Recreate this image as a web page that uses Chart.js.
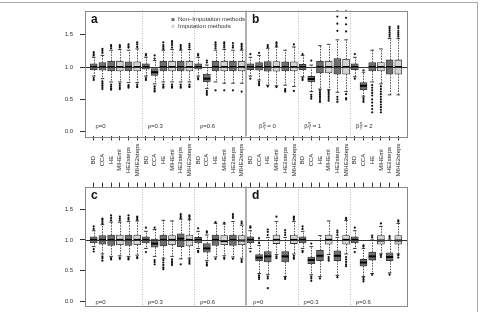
<!DOCTYPE html>
<html>
<head>
<meta charset="utf-8">
<script src="https://cdn.jsdelivr.net/npm/chart.js@4.4.1/dist/chart.umd.min.js"></script>
<style>
  body { margin: 0; background: #fff; width: 480px; height: 312px; overflow: hidden; position: relative; }
  #frame { position: absolute; left: -2px; top: 2px; width: 479px; height: 330px; border-top: 1px solid #aaa; border-right: 1px solid #aaa; }
  #topRow { position: absolute; left: 0; top: 0; }
  #botRow { position: absolute; left: 0; top: 176px; }
</style>
</head>
<body>
<div id="frame"></div>
<canvas id="topRow" width="480" height="180"></canvas>
<canvas id="botRow" width="480" height="140"></canvas>
<script>
const methods = ['BD', 'CCA', 'HE', 'MIHEml', 'HE2steps', 'MIHE2steps'];
const imputed = [false, false, false, true, false, true];
const yTicks = [0, 0.5, 1.0, 1.5];
const groupBreaks = [6.5, 12.5, 24.5, 30.5];
const panelBreak = 18.5;

const topLetters = ['a', 'b'];
const botLetters = ['c', 'd'];
const topGroups = ['ρ=0', 'ρ=0.3', 'ρ=0.6', 'β = 0', 'β = 1', 'β = 2'];
const botGroups = ['ρ=0', 'ρ=0.3', 'ρ=0.6', 'ρ=0', 'ρ=0.3', 'ρ=0.6'];
const topGroupAt = [1.2, 7.2, 13.2, 20.0, 25.2, 31.1];
const botGroupAt = [1.2, 7.2, 13.2, 19.3, 25.1, 31.1];

// top row: panels a (1-18) and b (19-36)
const topLow = [0.86, 0.82, 0.77, 0.77, 0.76, 0.76, 0.86, 0.74, 0.77, 0.77, 0.77, 0.77, 0.86, 0.67, 0.77, 0.75, 0.75, 0.75,
                0.86, 0.80, 0.72, 0.71, 0.72, 0.70, 0.85, 0.62, 0.66, 0.65, 0.61, 0.62, 0.85, 0.55, 0.77, 0.74, 0.57, 0.57];
const topQ1 = [0.96, 0.95, 0.94, 0.94, 0.94, 0.94, 0.965, 0.87, 0.94, 0.94, 0.94, 0.94, 0.965, 0.77, 0.94, 0.94, 0.94, 0.94,
               0.96, 0.95, 0.935, 0.935, 0.94, 0.94, 0.96, 0.77, 0.91, 0.91, 0.89, 0.89, 0.96, 0.65, 0.94, 0.94, 0.89, 0.89];
const topMed = [1, 1, 1, 1, 1, 1, 1, 0.92, 1, 1, 1, 1, 1, 0.82, 1, 1, 1, 1,
                1, 1, 1, 1, 1, 1, 1, 0.815, 1, 1, 1, 1, 1, 0.71, 1, 1, 1, 1];
const topQ3 = [1.05, 1.07, 1.09, 1.09, 1.08, 1.08, 1.05, 0.975, 1.09, 1.09, 1.09, 1.09, 1.05, 0.89, 1.09, 1.09, 1.09, 1.09,
               1.05, 1.07, 1.085, 1.085, 1.08, 1.08, 1.04, 0.855, 1.09, 1.09, 1.13, 1.12, 1.05, 0.76, 1.07, 1.07, 1.11, 1.11];
const topHigh = [1.15, 1.18, 1.26, 1.27, 1.26, 1.28, 1.15, 1.10, 1.26, 1.27, 1.26, 1.27, 1.15, 1.03, 1.26, 1.27, 1.26, 1.26,
                 1.15, 1.18, 1.29, 1.31, 1.26, 1.31, 1.18, 1.03, 1.33, 1.35, 1.42, 1.42, 1.15, 0.92, 1.26, 1.28, 1.44, 1.44];
const topOut = [
  [1.18, 1.2, 1.23, 0.83, 0.8], [1.22, 1.25, 1.28, 0.78, 0.75, 0.72, 0.69, 0.66], [1.29, 1.32, 1.34, 0.73, 0.7, 0.67, 0.65],
  [1.3, 1.32, 1.34, 0.74, 0.71, 0.68, 0.66], [1.3, 1.32, 1.35, 0.72, 0.7, 0.68], [1.31, 1.35, 1.38, 0.73, 0.7, 0.69],
  [1.18, 1.2, 0.83, 0.8], [1.13, 1.18, 0.7, 0.67, 0.64, 0.62], [1.28, 1.31, 1.34, 1.38, 0.73, 0.7, 0.68],
  [1.3, 1.34, 1.37, 1.4, 0.73, 0.7, 0.68], [1.28, 1.31, 1.34, 0.73, 0.7, 0.68], [1.3, 1.33, 1.36, 0.73, 0.7, 0.69],
  [1.18, 1.2, 0.83, 0.81], [1.07, 1.1, 0.63, 0.6, 0.57], [1.29, 1.32, 1.35, 1.38, 0.64],
  [1.3, 1.33, 1.36, 1.38, 0.64], [1.3, 1.33, 1.37, 0.64], [1.28, 1.31, 1.34, 1.36, 0.62],
  [1.2, 0.82], [1.22, 0.77, 0.74, 0.72], [1.31, 1.34, 0.7],
  [1.33, 1.36, 1.38, 0.69], [0.66, 0.64, 0.62], [1.35, 0.63],
  [1.2, 0.83, 0.8], [1.1, 0.57, 0.54, 0.51], [0.64, 0.61, 0.58, 0.55, 0.52, 0.49, 0.46],
  [0.63, 0.6, 0.57, 0.54, 0.51, 0.48], [1.56, 1.67, 1.78, 1.87, 0.54, 0.5, 0.46], [1.55, 1.66, 1.76, 1.87, 0.58, 0.52, 0.5],
  [1.2, 0.82], [0.95, 0.52, 0.49, 0.46], [0.72, 0.68, 0.64, 0.6, 0.56, 0.5, 0.45, 0.4, 0.35, 0.3],
  [0.7, 0.66, 0.62, 0.58, 0.54, 0.5, 0.46, 0.42, 0.38, 0.34, 0.3], [1.47, 1.5, 1.53, 1.56, 1.59, 1.62], [1.47, 1.5, 1.53, 1.56, 1.6, 1.63]
];

// bottom row: panels c (1-18) and d (19-36)
const botLow = [0.89, 0.77, 0.73, 0.74, 0.73, 0.75, 0.86, 0.73, 0.70, 0.73, 0.69, 0.70, 0.86, 0.66, 0.72, 0.74, 0.72, 0.70,
                0.86, 0.45, 0.43, 0.76, 0.40, 0.77, 0.86, 0.43, 0.40, 0.76, 0.42, 0.77, 0.86, 0.40, 0.45, 0.77, 0.46, 0.77];
const botQ1 = [0.95, 0.93, 0.91, 0.92, 0.91, 0.92, 0.95, 0.88, 0.90, 0.92, 0.89, 0.90, 0.95, 0.80, 0.91, 0.92, 0.91, 0.92,
               0.95, 0.66, 0.64, 0.94, 0.64, 0.94, 0.95, 0.61, 0.66, 0.93, 0.66, 0.93, 0.95, 0.57, 0.67, 0.93, 0.66, 0.93];
const botMed = [1, 1, 1, 1, 1, 1, 1, 0.94, 1, 1, 1.02, 1, 1, 0.86, 1, 0.98, 1, 0.99,
                1, 0.71, 0.73, 1, 0.73, 1, 1, 0.67, 0.74, 1, 0.74, 1, 1, 0.63, 0.73, 0.99, 0.72, 0.99];
const botQ3 = [1.05, 1.07, 1.08, 1.08, 1.08, 1.08, 1.05, 1.015, 1.08, 1.07, 1.10, 1.08, 1.04, 0.94, 1.08, 1.07, 1.08, 1.07,
               1.05, 0.76, 0.81, 1.08, 0.81, 1.08, 1.05, 0.72, 0.83, 1.08, 0.82, 1.07, 1.05, 0.68, 0.80, 1.07, 0.79, 1.07];
const botHigh = [1.15, 1.25, 1.29, 1.29, 1.30, 1.31, 1.14, 1.17, 1.32, 1.31, 1.34, 1.33, 1.14, 1.08, 1.27, 1.26, 1.30, 1.24,
                 1.15, 0.91, 1.04, 1.30, 1.04, 1.30, 1.14, 0.89, 1.07, 1.31, 1.04, 1.32, 1.15, 0.86, 1.00, 1.22, 1.00, 1.27];
const botOut = [
  [1.18, 1.22, 0.85, 0.81], [1.27, 1.3, 1.33, 1.35, 0.73, 0.7, 0.66], [1.32, 1.36, 1.4, 0.7, 0.68],
  [1.32, 1.35, 1.38, 0.71, 0.69], [1.33, 1.36, 1.4, 0.7, 0.68], [1.33, 1.36, 1.38, 0.72, 0.7],
  [1.2, 0.8], [1.2, 0.67, 0.64, 0.6], [0.67, 0.63, 0.59, 0.55, 0.52],
  [0.68, 0.65, 0.62, 0.59], [1.36, 1.39, 1.42, 0.6], [1.35, 1.38, 1.4, 0.67, 0.64, 0.61],
  [1.19, 0.82, 0.8], [1.12, 1.14, 0.63, 0.6, 0.58], [1.29, 0.69],
  [1.28, 0.71, 0.69], [1.36, 1.39, 1.42, 0.69], [1.27, 1.3, 0.67, 0.64],
  [1.2, 1.22, 0.81], [0.95, 0.99, 1.03, 0.42, 0.39, 0.36], [1.08, 1.13, 1.17, 0.4, 0.37, 0.21],
  [1.38, 0.73, 0.7], [1.08, 1.12, 1.16, 0.38, 0.36], [1.33, 1.36, 1.38, 0.74, 0.71, 0.69],
  [1.18, 1.22, 0.82, 0.8], [0.94, 0.4, 0.37, 0.33], [0.37],
  [0.72, 0.69, 0.66], [1.08, 1.12, 1.15, 0.39], [1.34, 1.36, 0.72, 0.68, 0.64, 0.6, 0.57],
  [1.2, 0.8], [0.89, 0.91, 0.38, 0.35, 0.32], [1.04, 1.07, 0.43],
  [1.27, 0.75, 0.72], [1.03, 1.06, 0.43], [1.3, 1.32, 0.75, 0.71]
];

const DARK = '#6f6f6f';
const LIGHT = '#d3d3d3';
const FONT = '"Liberation Sans", Arial, sans-serif';
Chart.defaults.font.family = FONT;

function line(ctx, x1, y1, x2, y2) {
  ctx.beginPath();
  ctx.moveTo(x1, y1);
  ctx.lineTo(x2, y2);
  ctx.stroke();
}

function drawGroupLabel(ctx, text, x, y) {
  ctx.font = '6px ' + FONT;
  ctx.textBaseline = 'middle';
  ctx.textAlign = 'left';
  if (text.startsWith('β')) {
    ctx.fillText('β', x, y);
    const w = ctx.measureText('β').width;
    ctx.font = '4.5px ' + FONT;
    ctx.fillText('S', x + w + 0.3, y - 2.2);
    ctx.fillText('Y', x + w + 0.3, y + 1.8);
    ctx.font = '6px ' + FONT;
    ctx.fillText(text.slice(1), x + w + 3.2, y);
  } else {
    ctx.fillText(text, x, y);
  }
}

function makeRow(canvasId, low, q1, med, q3, high, out, opts) {
  const colors = low.map((_, i) => imputed[i % 6] ? LIGHT : DARK);
  const boxes = low.map((_, i) => ({ x: i + 1, y: [q1[i], q3[i]] }));
  const points = [];
  out.forEach((vals, i) => vals.forEach(v => points.push({ x: i + 1, y: v })));
  const names = low.map((_, i) => methods[i % 6]);

  const decor = {
    id: 'decor',
    beforeDatasetsDraw(chart) {
      const { ctx, chartArea: a, scales: { x, y } } = chart;
      ctx.save();
      ctx.strokeStyle = '#bbb';
      ctx.lineWidth = 1;
      ctx.setLineDash([1, 1.5]);
      groupBreaks.forEach(v => {
        const px = Math.round(x.getPixelForValue(v)) + 0.5;
        line(ctx, px, a.top, px, a.bottom);
      });
      // whiskers
      ctx.strokeStyle = '#222';
      ctx.lineWidth = 0.8;
      ctx.setLineDash([1.5, 1.2]);
      low.forEach((_, i) => {
        const px = Math.round(x.getPixelForValue(i + 1)) + 0.5;
        line(ctx, px, y.getPixelForValue(q3[i]), px, y.getPixelForValue(high[i]));
        line(ctx, px, y.getPixelForValue(q1[i]), px, y.getPixelForValue(low[i]));
      });
      ctx.setLineDash([]);
      ctx.lineWidth = 0.9;
      low.forEach((_, i) => {
        const px = x.getPixelForValue(i + 1);
        line(ctx, px - 1.8, y.getPixelForValue(high[i]), px + 1.8, y.getPixelForValue(high[i]));
        line(ctx, px - 1.8, y.getPixelForValue(low[i]), px + 1.8, y.getPixelForValue(low[i]));
      });
      ctx.restore();
    },
    afterDatasetsDraw(chart) {
      const { ctx, chartArea: a, scales: { x, y } } = chart;
      ctx.save();
      // medians
      ctx.strokeStyle = '#000';
      ctx.lineWidth = 2;
      med.forEach((m, i) => {
        const px = x.getPixelForValue(i + 1);
        line(ctx, px - 3.5, y.getPixelForValue(m), px + 3.5, y.getPixelForValue(m));
      });
      // reference line at 1
      ctx.strokeStyle = '#333';
      ctx.lineWidth = 1;
      const y1 = Math.round(y.getPixelForValue(1)) + 0.5;
      line(ctx, a.left, y1, a.right, y1);
      // panel frame and split
      ctx.strokeStyle = '#888';
      ctx.strokeRect(Math.round(a.left) + 0.5, Math.round(a.top) + 0.5, Math.round(a.right - a.left), Math.round(a.bottom - a.top));
      ctx.strokeStyle = '#999';
      ctx.lineWidth = 1.5;
      const ps = x.getPixelForValue(panelBreak);
      line(ctx, ps, a.top, ps, a.bottom);

      ctx.fillStyle = '#111';
      ctx.font = 'bold 12px ' + FONT;
      ctx.textAlign = 'left';
      ctx.textBaseline = 'alphabetic';
      ctx.fillText(opts.letters[0], x.getPixelForValue(0.7), a.top + 12);
      ctx.fillText(opts.letters[1], x.getPixelForValue(19.2), a.top + 12);

      ctx.fillStyle = '#333';
      opts.groups.forEach((g, i) => drawGroupLabel(ctx, g, x.getPixelForValue(opts.groupAt[i]), a.top + 116));

      if (opts.legend) {
        const lx = a.left + 88;
        ctx.fillStyle = DARK;
        ctx.fillRect(lx - 1.5, a.top + 7.5, 3, 3);
        ctx.fillStyle = LIGHT;
        ctx.fillRect(lx - 1.5, a.top + 14.2, 3, 3);
        ctx.fillStyle = '#333';
        ctx.font = '6px ' + FONT;
        ctx.textBaseline = 'middle';
        ctx.fillText('Non–Imputation methods', lx + 5, a.top + 9);
        ctx.fillText('Imputation methods', lx + 5, a.top + 15.7);
      }

      if (opts.names) {
        ctx.fillStyle = '#222';
        ctx.font = '6px ' + FONT;
        ctx.textAlign = 'center';
        ctx.textBaseline = 'middle';
        names.forEach((n, i) => {
          ctx.save();
          ctx.translate(x.getPixelForValue(i + 1), 160);
          ctx.rotate(-Math.PI / 2);
          ctx.fillText(n, 0, 0);
          ctx.restore();
        });
      }
      ctx.restore();
    }
  };

  const canvas = document.getElementById(canvasId);
  return new Chart(canvas, {
    type: 'bar',
    data: {
      datasets: [
        {
          type: 'bar',
          data: boxes,
          backgroundColor: colors,
          borderColor: '#333',
          borderWidth: 0.8,
          borderSkipped: false,
          barThickness: 7
        },
        {
          type: 'scatter',
          data: points,
          pointRadius: 1.1,
          pointBackgroundColor: '#111',
          pointBorderWidth: 0
        }
      ]
    },
    options: {
      responsive: false,
      animation: false,
      layout: { padding: { left: 0, right: 73, top: opts.padTop, bottom: opts.padBottom } },
      plugins: { legend: { display: false }, tooltip: { enabled: false } },
      scales: {
        x: {
          type: 'linear',
          position: opts.axisPos,
          min: 0,
          max: 37,
          offset: false,
          afterBuildTicks: s => { s.ticks = names.map((_, i) => ({ value: i + 1 })); },
          afterFit: s => { s.height = opts.axisHeight; },
          ticks: { display: false },
          grid: { offset: false, drawOnChartArea: false, tickLength: 4, color: '#333' },
          border: { display: false }
        },
        y: {
          min: -0.072,
          max: 1.872,
          afterBuildTicks: s => { s.ticks = yTicks.map(v => ({ value: v })); },
          afterFit: s => { s.width = 85; },
          ticks: { font: { size: 6 }, color: '#333', padding: 7, callback: v => v.toFixed(1) },
          grid: { drawOnChartArea: false, tickLength: 5, color: '#333' },
          border: { display: false }
        }
      }
    },
    plugins: [decor]
  });
}

makeRow('topRow', topLow, topQ1, topMed, topQ3, topHigh, topOut, {
  letters: topLetters, groups: topGroups, groupAt: topGroupAt,
  legend: true, names: true, axisPos: 'bottom', axisHeight: 43.6, padTop: 10, padBottom: 0
});
makeRow('botRow', botLow, botQ1, botMed, botQ3, botHigh, botOut, {
  letters: botLetters, groups: botGroups, groupAt: botGroupAt,
  legend: false, names: false, axisPos: 'top', axisHeight: 10, padTop: 0, padBottom: 3.6
});
</script>
</body>
</html>
